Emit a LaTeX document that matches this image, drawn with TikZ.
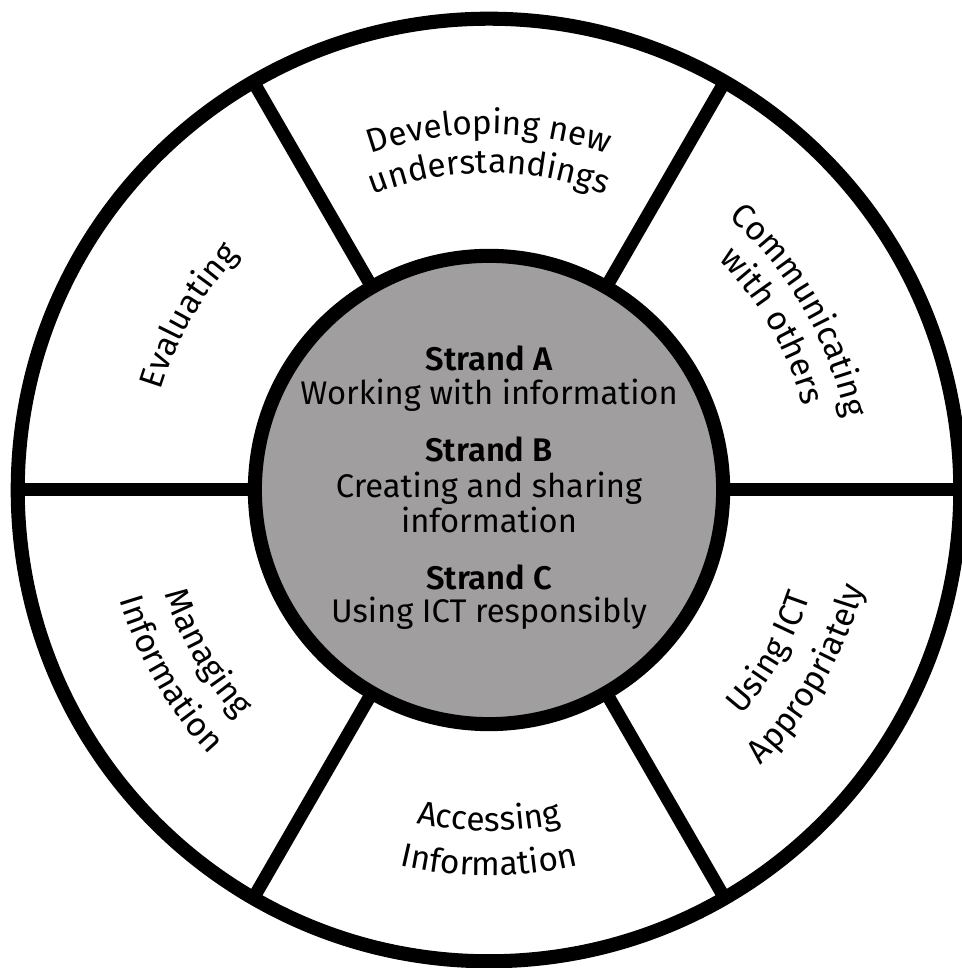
\documentclass[tikz,border=0pt]{standalone}
\usepackage{fontspec}
\setmainfont{Fira Sans}[BoldFont={Fira Sans SemiBold}]
\usetikzlibrary{decorations.text,calc}
\definecolor{hubgray}{RGB}{160,158,159}
\tikzset{
  ring/.style={circle, draw=black, line width=4pt, inner sep=0pt, outer sep=0pt},
  spoke/.style={draw=black, line width=3.7pt},
  strandhead/.style={anchor=base, inner sep=0pt, font=\fontsize{9.3}{11}\selectfont\bfseries},
  strandtext/.style={anchor=base, inner sep=0pt, font=\fontsize{9.3}{11}\selectfont},
}
\newcommand\arcfont{\fontsize{9.5}{11}\selectfont}
\newcommand\cwlabel[4]{%
  \path[decorate, decoration={text along path, text align=center, text={|\arcfont|#4}}]
    ($(C)+(#1+#3:#2)$) arc[start angle=#1+#3, end angle=#1-#3, radius=#2];}
\newcommand\ccwlabel[4]{%
  \path[decorate, decoration={text along path, text align=center, text={|\arcfont|#4}}]
    ($(C)+(#1-#3:#2)$) arc[start angle=#1-#3, end angle=#1+#3, radius=#2];}
\begin{document}
\begin{tikzpicture}[x=0.01cm, y=0.01cm]
  \useasboundingbox (0,0) rectangle (962,968);
  \fill[white] (0,0) rectangle (962,968);
  \coordinate (C) at (489,478);
  \node[ring, fill=white, minimum size=9.42cm] (outer) at (C) {};
  \node[ring, fill=hubgray, minimum size=4.68cm] (inner) at (C) {};
  \foreach \a in {0,60,120,180,240,300}
    \draw[spoke] (inner.\a) -- (outer.\a);
  % centre texts
  \node[strandhead] (sa)  at (489,597) {Strand A};
  \node[strandtext] (sa1) at (489,563) {Working with information};
  \node[strandhead] (sb)  at (489,506) {Strand B};
  \node[strandtext] (sb1) at (489,470) {Creating and sharing};
  \node[strandtext] (sb2) at (489,435) {information};
  \node[strandhead] (sc)  at (489,378) {Strand C};
  \node[strandtext] (sc1) at (489,345) {Using ICT responsibly};
  % ring texts
  \cwlabel{90}{356}{40}{Developing new}
  \cwlabel{90}{317}{40}{understandings}
  \cwlabel{150}{343}{40}{Evaluating}
  \cwlabel{30}{363}{40}{Communicating}
  \cwlabel{30}{325}{40}{with others}
  \ccwlabel{210}{340}{40}{Managing}
  \ccwlabel{210}{385}{40}{Information}
  \ccwlabel{270}{341}{40}{Accessing}
  \ccwlabel{270}{386}{40}{Information}
  \ccwlabel{330}{338}{40}{Using ICT}
  \ccwlabel{330}{387}{40}{Appropriately}
\end{tikzpicture}
\end{document}
